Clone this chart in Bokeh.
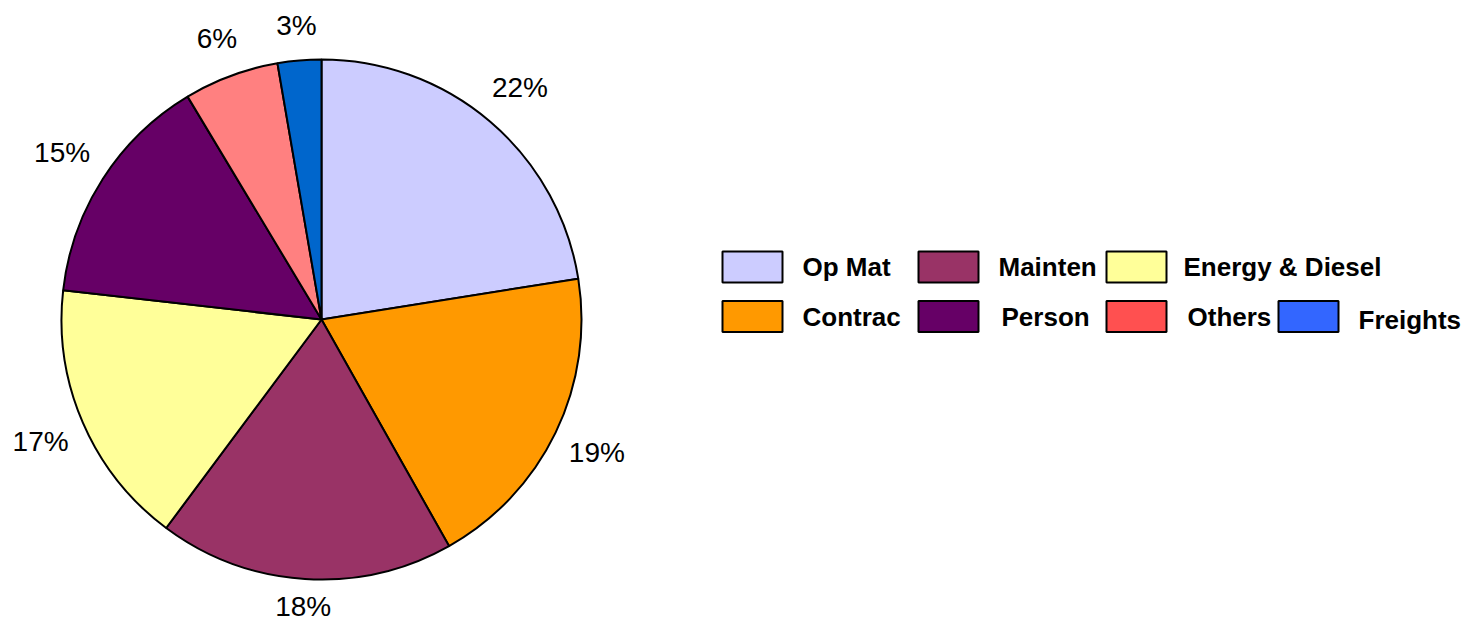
import math
from bokeh.plotting import figure
from bokeh.models import Range1d, ColumnDataSource
from bokeh.core.properties import value
from bokeh.embed import file_html
from bokeh.resources import INLINE

# ---- data ----
categories = ["Op Mat", "Contrac", "Mainten", "Energy & Diesel", "Person", "Others", "Freights"]
values = [22.49, 19.35, 18.35, 16.6, 14.6, 5.9, 2.71]

# ---- style ----
slice_colors = ["#CCCCFF", "#FF9900", "#993366", "#FFFF99", "#660066", "#FF8080", "#0066CC"]
legend_colors = ["#CCCCFF", "#FF9900", "#993366", "#FFFF99", "#660066", "#FF5050", "#3366FF"]

W, H = 1465, 625
OX, OY = 0, 0              # page position of the figure's top-left corner
CX, CY, R = 321, 319, 260  # pie centre and radius in page pixels


def X(sx):
    return (sx - CX) / R


def Y(sy):
    return (CY - sy) / R


p = figure(width=W, height=H, output_backend="svg", toolbar_location=None,
           x_range=Range1d(X(OX), X(OX + W)), y_range=Range1d(Y(OY + H), Y(OY)),
           min_border=0, outline_line_color=None)
p.axis.visible = False
p.grid.visible = False

total = sum(values)
starts, ends, mids = [], [], []
acc = 0.0
for v in values:
    a0 = math.pi / 2 - acc / total * 2 * math.pi
    acc += v
    a1 = math.pi / 2 - acc / total * 2 * math.pi
    starts.append(a0)
    ends.append(a1)
    mids.append((a0 + a1) / 2)

src = ColumnDataSource(dict(start=starts, end=ends, color=slice_colors, cat=categories))
p.wedge(x=0, y=0, radius=1, start_angle="start", end_angle="end", direction="clock",
        fill_color="color", line_color="black", line_width=2, source=src)

# percentage labels outside the pie
lx, ly, lt = [], [], []
for v, m in zip(values, mids):
    s = math.sin(m)
    d = (R + 26 + 22 * abs(math.cos(m)) + (7 * s if s > 0 else 0)) / R
    lx.append(d * math.cos(m))
    ly.append(d * s)
    lt.append(f"{round(v / total * 100)}%")
p.text(x=lx, y=ly, text=lt, text_font=value("Liberation Sans"), text_font_size="28px",
       text_align="center", text_baseline="middle", text_color="black")

# legend (page-pixel layout)
box_left = {"Op Mat": 722, "Contrac": 722, "Mainten": 918, "Person": 918,
            "Energy & Diesel": 1106, "Others": 1106, "Freights": 1278}
text_left = {"Op Mat": 802, "Contrac": 802, "Mainten": 998, "Person": 1001,
             "Energy & Diesel": 1183, "Others": 1187, "Freights": 1358}
row_y = {"Op Mat": 266.5, "Mainten": 266.5, "Energy & Diesel": 266.5,
         "Contrac": 316, "Person": 316, "Others": 316, "Freights": 316}
text_dy = {"Freights": 3}

bx, by, bc, tx, ty, tt = [], [], [], [], [], []
for cat, col in zip(categories, legend_colors):
    bx.append(X(box_left[cat] + 30))
    by.append(Y(row_y[cat]))
    bc.append(col)
    tx.append(X(text_left[cat]))
    ty.append(Y(row_y[cat] + text_dy.get(cat, 0)))
    tt.append(cat)
p.rect(x=bx, y=by, width=60 / R, height=31 / R, fill_color=bc, line_color="black", line_width=2)
p.text(x=tx, y=ty, text=tt, text_font=value("Liberation Sans"), text_font_size="26px",
       text_font_style="bold", text_align="left", text_baseline="middle", text_color="black")

open("out.html", "w").write(file_html(p, INLINE))
